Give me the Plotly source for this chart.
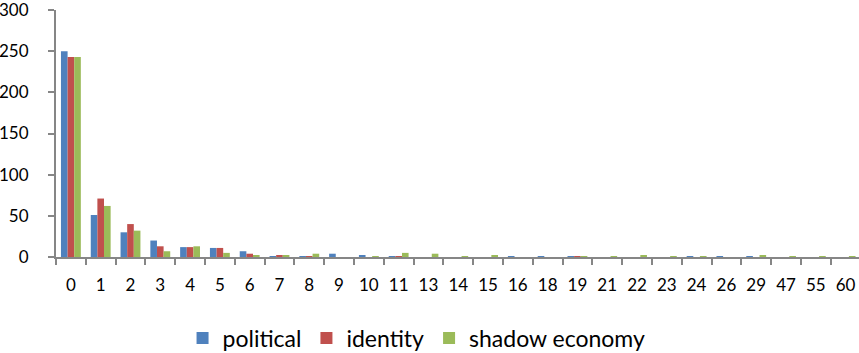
import plotly.graph_objects as go

categories = ["0", "1", "2", "3", "4", "5", "6", "7", "8", "9", "10", "11", "13",
              "14", "15", "16", "18", "19", "21", "22", "23", "24", "26", "29",
              "47", "55", "60"]

political = [250, 51, 30, 20, 12, 11, 7, 1, 1, 4, 2, 1, 0,
             0, 0, 1, 1, 1, 0, 0, 0, 1, 1, 1,
             0, 0, 0]
identity = [243, 71, 40, 13, 12, 11, 4, 2, 1, 0, 0, 1, 0,
            0, 0, 0, 0, 1, 0, 0, 0, 0, 0, 0,
            0, 0, 0]
shadow_economy = [243, 62, 32, 7, 13, 5, 2, 2, 4, 0, 1, 5, 4,
                  1, 2, 0, 0, 1, 1, 2, 1, 1, 0, 2,
                  1, 1, 1]

series = [
    ("political", political, "#4F81BD"),
    ("identity", identity, "#C0504D"),
    ("shadow economy", shadow_economy, "#9BBB59"),
]

fig = go.Figure()

for name, values, color in series:
    fig.add_trace(
        go.Bar(
            x=categories,
            y=values,
            name=name,
            marker=dict(color=color, line=dict(width=0)),
        )
    )

axis_color = "#868686"

fig.update_layout(
    width=859,
    height=353,
    margin=dict(l=56, r=0, t=10, b=96, autoexpand=False),
    plot_bgcolor="white",
    paper_bgcolor="white",
    font=dict(family="Lato, 'Open Sans', sans-serif", size=17, color="#000000"),
    barmode="group",
    bargap=0.333,
    bargroupgap=0,
    showlegend=True,
    legend=dict(
        orientation="h",
        x=0.449,
        xanchor="center",
        y=-0.328,
        yanchor="middle",
        font=dict(size=23),
        itemwidth=30,
        traceorder="normal",
    ),
)

fig.update_xaxes(
    type="category",
    range=[-0.5, 26.45],
    automargin=False,
    showline=True,
    linecolor=axis_color,
    linewidth=2,
    ticks="outside",
    tickson="boundaries",
    ticklen=6,
    tickwidth=2,
    tickcolor=axis_color,
    showgrid=False,
    tickangle=0,
    ticklabelstandoff=12,
    tickfont=dict(size=17),
)

fig.update_yaxes(
    range=[0, 300],
    dtick=50,
    automargin=False,
    showline=True,
    linecolor=axis_color,
    linewidth=2,
    ticks="outside",
    ticklen=6,
    tickwidth=2,
    tickcolor=axis_color,
    showgrid=False,
    zeroline=False,
    ticklabeloverflow="allow",
    ticklabelstandoff=16,
    tickfont=dict(size=17),
)

# ページ既定の余白を消して、図を左上に揃える
fig.write_html(
    "out.html",
    config={"displayModeBar": False},
    post_script="document.body.style.margin='0';",
)
